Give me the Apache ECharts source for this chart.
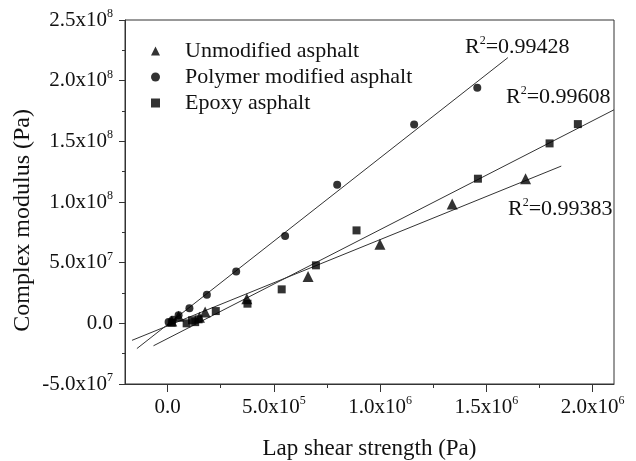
<!DOCTYPE html>
<html><head><meta charset="utf-8">
<script src="https://cdn.jsdelivr.net/npm/echarts@6/dist/echarts.min.js"></script>
<style>html,body{margin:0;padding:0;background:#fff}#c{width:636px;height:461px}</style>
</head><body><div id="c"></div>
<script>
// ---- data ----
const unmodified = [[2e4,2e6],[5.2e4,5.8e6],[1.5e5,5e6],[1.77e5,9.3e6],[3.73e5,2.03e7],[6.61e5,3.85e7],[9.99e5,6.51e7],[1.339e6,9.84e7],[1.684e6,1.192e8]];
const polymer = [[5e3,1e6],[2.5e4,3e6],[5.2e4,6.6e6],[1.03e5,1.24e7],[1.85e5,2.36e7],[3.23e5,4.28e7],[5.53e5,7.19e7],[7.98e5,1.142e8],[1.16e6,1.639e8],[1.457e6,1.941e8]];
const epoxy = [[2e4,5e5],[9e4,0],[1.15e5,2.5e6],[1.3e5,1e6],[1.46e5,3.3e6],[2.27e5,1.01e7],[3.76e5,1.62e7],[5.37e5,2.8e7],[6.98e5,4.78e7],[8.89e5,7.66e7],[1.46e6,1.192e8],[1.797e6,1.483e8],[1.93e6,1.642e8]];
const fitUnmodified = [[-1.67e5,-1.4e7],[1.852e6,1.296e8]];
const fitPolymer = [[-1.44e5,-2.08e7],[1.601e6,2.19e8]];
const fitEpoxy = [[-6.6e4,-1.85e7],[2.1e6,1.76e8]];
const seriesNames = ['Unmodified asphalt','Polymer modified asphalt','Epoxy asphalt'];
const r2Labels = ['0.99428','0.99608','0.99383'];
const xMajorTicks = [0,5e5,1e6,1.5e6,2e6];
const xMinorTicks = [2.5e5,7.5e5,1.25e6,1.75e6];

const FONT = '"Liberation Serif","Times New Roman",serif';
function sci(v){
  if (v === 0) return '{m|0.0}';
  const s = v < 0 ? '-' : '';
  const a = Math.abs(v);
  const e = Math.floor(Math.log10(a) + 1e-9);
  const m = (a / Math.pow(10, e)).toFixed(1);
  return '{m|' + s + m + 'x10}{s|' + e + '}';
}
const rich = {
  m:{fontFamily:FONT,fontSize:21,color:'#111',lineHeight:24},
  s:{fontFamily:FONT,fontSize:12,color:'#111',lineHeight:12,verticalAlign:'top'}
};
const chart = echarts.init(document.getElementById('c'));
const lineStyle = {color:'#333',width:1};
const r2Pos = [[465,47],[506,97],[508,209]];
const gridBox = {left:125,top:20,right:22,bottom:77,outerBoundsMode:'none',containLabel:false};
chart.setOption({
  animation:false,
  backgroundColor:'#fff',
  grid:[
    Object.assign({show:true,borderColor:'#333',borderWidth:1,backgroundColor:'transparent'},gridBox),
    Object.assign({show:false},gridBox)
  ],
  legend:{
    data:[{name:seriesNames[0],icon:'triangle'},{name:seriesNames[1],icon:'circle'},{name:seriesNames[2],icon:'rect'}],
    orient:'vertical',left:146,top:35,itemWidth:9,itemHeight:9,itemGap:4,
    textStyle:{fontFamily:FONT,fontSize:22,color:'#111',padding:[0,0,0,20]}
  },
  xAxis:[{
    gridIndex:0,type:'value',min:-2e5,max:2.1e6,position:'bottom',
    axisLine:{show:true,onZero:false,lineStyle:{color:'#333'}},
    axisTick:{show:true,customValues:xMajorTicks,length:8,lineStyle:{color:'#333'}},
    axisLabel:{customValues:xMajorTicks,formatter:v=>sci(v),rich:rich,margin:11},
    splitLine:{show:false},
    name:'Lap shear strength (Pa)',nameLocation:'middle',nameGap:53,
    nameTextStyle:{fontFamily:FONT,fontSize:23,color:'#111'}
  },{
    // minor ticks drawn by an identical axis in an overlaid grid
    gridIndex:1,type:'value',min:-2e5,max:2.1e6,position:'bottom',
    axisLine:{show:false,onZero:false},
    axisTick:{show:true,customValues:xMinorTicks,length:4,lineStyle:{color:'#333'}},
    axisLabel:{show:false},splitLine:{show:false}
  }],
  yAxis:[{
    gridIndex:0,type:'value',min:-5e7,max:2.5e8,interval:5e7,
    axisLine:{show:true,onZero:false,lineStyle:{color:'#333'}},
    axisTick:{show:true,length:6,lineStyle:{color:'#333'}},
    minorTick:{show:true,splitNumber:2,length:3,lineStyle:{color:'#333'}},
    axisLabel:{formatter:v=>sci(v),rich:rich,margin:12},
    splitLine:{show:false}
  },{
    gridIndex:1,type:'value',min:-5e7,max:2.5e8,show:false
  }],
  graphic:[
    {type:'text',left:11,top:109,rotation:Math.PI/2,
     style:{text:'Complex modulus (Pa)',fontFamily:FONT,fontSize:24,fill:'#111'}}
  ].concat(r2Labels.map((r,i)=>({
    type:'text',x:r2Pos[i][0],y:r2Pos[i][1],
    style:{text:'{m|R}{s|2}{m|='+r+'}',verticalAlign:'middle',rich:{
      m:{fontFamily:FONT,fontSize:22,fill:'#111',lineHeight:24},
      s:{fontFamily:FONT,fontSize:12,fill:'#111',lineHeight:12,verticalAlign:'top'}}}
  }))),
  series:[
    {name:seriesNames[0],type:'scatter',symbol:'triangle',symbolSize:11,itemStyle:{color:'#000'},data:unmodified},
    {name:seriesNames[1],type:'scatter',symbol:'circle',symbolSize:8,itemStyle:{color:'#000'},data:polymer},
    {name:seriesNames[2],type:'scatter',symbol:'rect',symbolSize:8,itemStyle:{color:'#000'},data:epoxy},
    {type:'line',data:fitUnmodified,symbol:'none',lineStyle:lineStyle,silent:true,z:1},
    {type:'line',data:fitPolymer,symbol:'none',lineStyle:lineStyle,silent:true,z:1},
    {type:'line',data:fitEpoxy,symbol:'none',lineStyle:lineStyle,silent:true,z:1}
  ]
});
</script></body></html>
